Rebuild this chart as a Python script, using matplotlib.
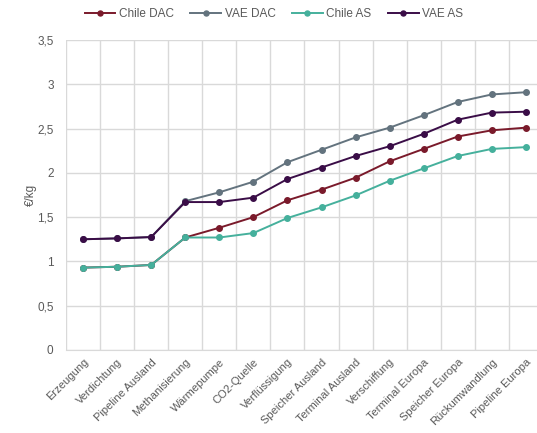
import numpy as np
import matplotlib
matplotlib.use('Agg')
import matplotlib.pyplot as plt
from matplotlib.ticker import FuncFormatter

steps = ['Erzeugung', 'Verdichtung', 'Pipeline Ausland', 'Methanisierung', 'Wärmepumpe',
         'CO2-Quelle', 'Verflüssigung', 'Speicher Ausland', 'Terminal Ausland', 'Verschiffung',
         'Terminal Europa', 'Speicher Europa', 'Rückumwandlung', 'Pipeline Europa']

chile_dac = [0.93, 0.94, 0.96, 1.27, 1.38, 1.50, 1.69, 1.81, 1.945, 2.13, 2.27, 2.41, 2.48, 2.51]
vae_dac = [1.25, 1.26, 1.275, 1.68, 1.78, 1.90, 2.12, 2.26, 2.40, 2.51, 2.65, 2.80, 2.885, 2.91]
chile_as = [0.93, 0.94, 0.96, 1.27, 1.27, 1.32, 1.49, 1.61, 1.745, 1.91, 2.05, 2.19, 2.27, 2.29]
vae_as = [1.25, 1.26, 1.275, 1.67, 1.67, 1.72, 1.93, 2.06, 2.19, 2.30, 2.44, 2.60, 2.68, 2.69]

series = [('Chile DAC', chile_dac, '#7a1a2b'),
          ('VAE DAC', vae_dac, '#63737e'),
          ('Chile AS', chile_as, '#45b09c'),
          ('VAE AS', vae_as, '#3a0d47')]

plt.rcParams['font.family'] = ['Liberation Sans', 'DejaVu Sans']
fig = plt.figure(figsize=(5.37, 4.33), dpi=100)
ax = fig.add_axes([0.123, 0.1917, 0.888, 0.716])

x = np.arange(len(steps))
for name, vals, col in series:
    ax.plot(x, vals, color=col, lw=1.4, marker='o', ms=4, label=name, zorder=3)

ax.set_xlim(-0.5, len(steps) - 0.5)
ax.set_ylim(0, 3.5)
ax.set_yticks(np.arange(0, 3.51, 0.5))
ax.yaxis.set_major_formatter(FuncFormatter(lambda v, p: ('%g' % v).replace('.', ',')))
ax.set_xticks(x)
ax.set_xticklabels(steps, rotation=45, ha='right', rotation_mode='anchor')
ax.set_xticks(np.arange(-0.5, len(steps), 1), minor=True)

ax.grid(True, axis='y', color='#d9d9d9', lw=1)
ax.grid(True, axis='x', which='minor', color='#d9d9d9', lw=1)
ax.set_axisbelow(True)
for s in ['top', 'right', 'left']:
    ax.spines[s].set_visible(False)
ax.spines['bottom'].set_color('#d9d9d9')
ax.tick_params(axis='both', which='both', length=0, colors='#595959', labelsize=8.5)
ax.tick_params(axis='x', pad=5, labelsize=8)
ax.tick_params(axis='y', pad=9)

ax.set_ylabel('€/kg', color='#595959', fontsize=8.5, labelpad=0)

fig.legend(loc='upper center', bbox_to_anchor=(0.51, 1.005), ncol=4, frameon=False,
           fontsize=8.5, labelcolor='#595959', handlelength=2.6, columnspacing=1.4,
           handletextpad=0.3, markerscale=0.9)

fig.savefig('out.png', dpi=100)
